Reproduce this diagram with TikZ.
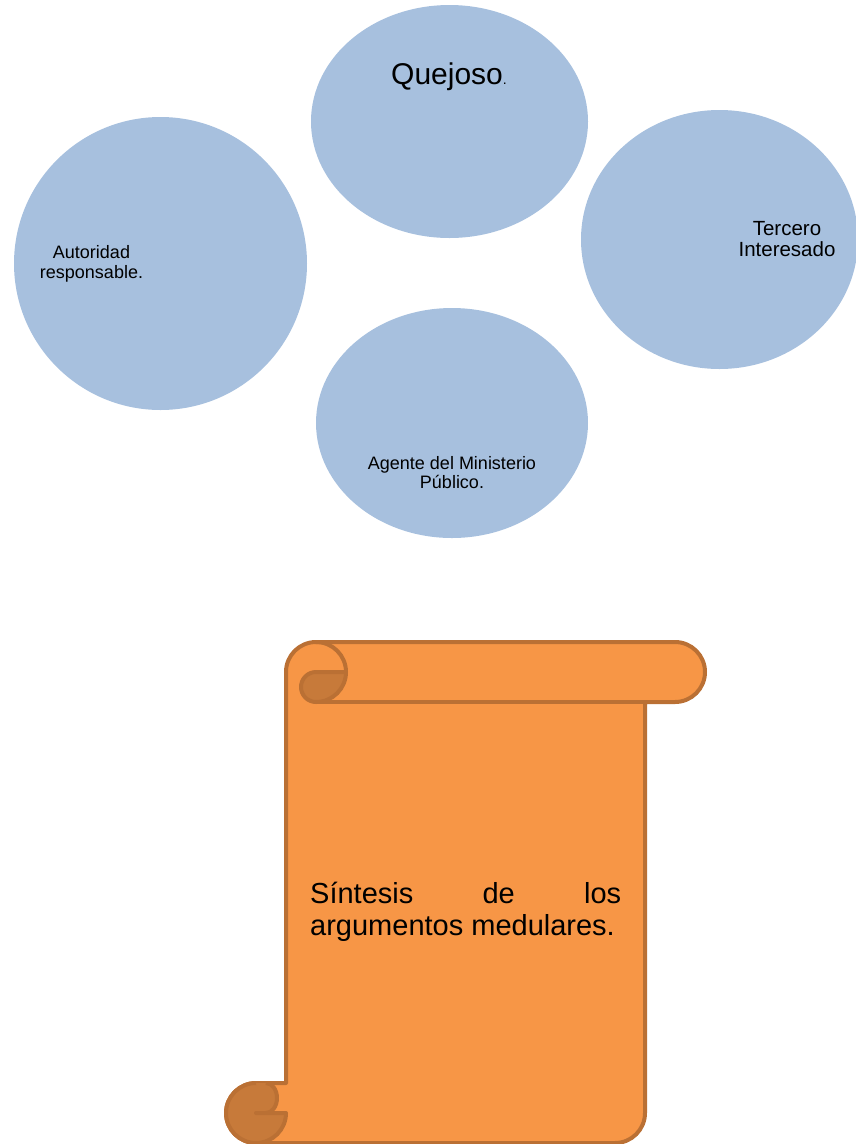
\documentclass[tikz,border=0pt]{standalone}
\usepackage{fontspec}
\setmainfont{Liberation Sans}
\usetikzlibrary{shapes.geometric}
\definecolor{bubblefill}{HTML}{A7C0DE}
\definecolor{scrollfill}{HTML}{F79646}
\definecolor{scrolldark}{HTML}{C77A3A}
\definecolor{scrollline}{HTML}{BA7034}
\begin{document}
\begin{tikzpicture}[x=1pt, y=-1pt,
		bubble/.style={ellipse, fill=bubblefill, inner sep=0pt},
		scroll/.style={fill=scrollfill, draw=scrollline, line width=4pt, line join=round},
		curl/.style={fill=scrolldark, draw=scrollline, line width=4pt, line join=round},
		label/.style={anchor=base, align=center, inner sep=0pt}]
	\useasboundingbox (0,0) rectangle (856,1144);
	% the four parties
	\node[bubble, minimum width=277pt, minimum height=233pt] (quejoso) at (449.5,121.5) {};
	\node[bubble, minimum width=293pt, minimum height=293pt] (autoridad) at (160.5,263.5) {};
	\node[bubble, minimum width=277pt, minimum height=259pt] (tercero) at (719.5,239.5) {};
	\node[bubble, minimum width=272pt, minimum height=230pt] (agente) at (452,423) {};
	\node[label, anchor=base west] (tquejoso) at (391,84) {\fontsize{30}{36}\selectfont Quejoso{\fontsize{14}{16}\selectfont .}};
	\node[label, font=\fontsize{18}{19.5}\selectfont] (tautoridad) at (91.5,278) {Autoridad\\responsable.};
	\node[label, font=\fontsize{20.5}{21}\selectfont] (ttercero) at (787,256.3) {Tercero\\Interesado};
	\node[label, font=\fontsize{18}{19}\selectfont] (tagente) at (452,488.5) {Agente del Ministerio\\Público.};
	% the scroll
	\draw[scroll] (286,1083) -- (286,672) arc[start angle=180, end angle=270, radius=30]
		-- (675,642) arc[start angle=-90, end angle=90, radius=30] -- (645,702)
		-- (645,1113) arc[start angle=0, end angle=90, radius=30]
		-- (256,1143) arc[start angle=90, end angle=270, radius=30] -- cycle;
	\draw[scrollline, line width=4pt] (316,642) arc[start angle=-90, end angle=0, radius=30];
	\draw[scrollline, line width=4pt] (316,702) -- (645,702);
	\draw[curl] (346,672) arc[start angle=0, end angle=90, radius=30]
		arc[start angle=90, end angle=270, radius=15] -- cycle;
	\fill[scrolldark] (256,1113) -- (266,1113) arc[start angle=90, end angle=-90, x radius=11, y radius=15]
		-- (256,1083) arc[start angle=270, end angle=0, radius=30] -- cycle;
	\draw[scrollline, line width=4pt, line join=round] (256,1083) arc[start angle=270, end angle=0, radius=30] -- (256,1113)
		-- (266,1113) arc[start angle=90, end angle=-90, x radius=11, y radius=15];
	\node[anchor=base west, align=left, inner sep=0pt, font=\fontsize{29}{32}\selectfont] (sintesis) at (310,935)
		{\makebox[311pt][s]{Síntesis de los}\\argumentos medulares.};
\end{tikzpicture}
\end{document}
